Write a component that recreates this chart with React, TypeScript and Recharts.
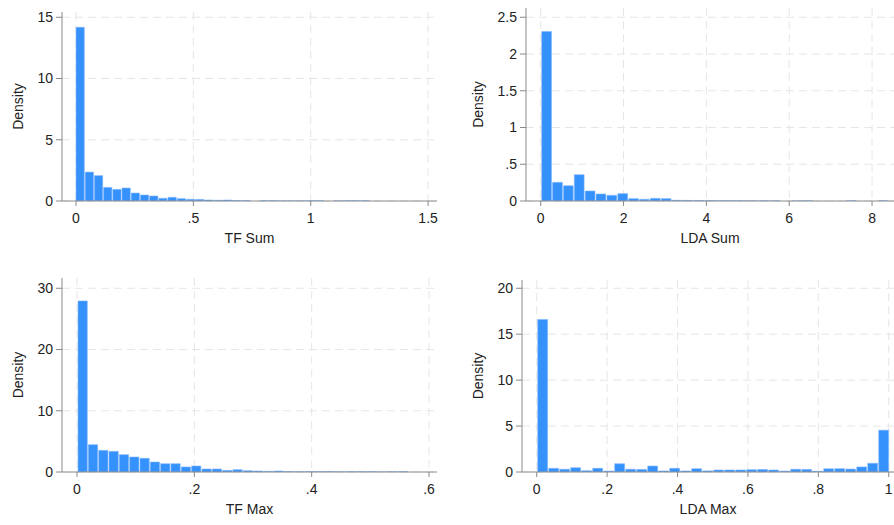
import { BarChart, Bar, XAxis, YAxis, CartesianGrid } from "recharts";

// densities per bin
const tfSumDensity = [
  14.18, 2.36, 2.07, 1.11, 0.95, 1.06, 0.65, 0.49, 0.41, 0.22, 0.3, 0.19, 0.14, 0.13, 0.08, 0.06,
  0.08, 0.04, 0.03, 0, 0.02, 0.02, 0.01, 0.01, 0.01, 0.02, 0.02, 0, 0.01, 0.02, 0.02, 0.02,
];
const ldaSumDensity = [
  2.305, 0.254, 0.208, 0.358, 0.136, 0.095, 0.077, 0.1, 0.032, 0.023, 0.036, 0.032, 0.01, 0.008, 0.006, 0.005,
  0.004, 0.003, 0.003, 0.002, 0.002, 0.002, 0, 0.001, 0.003, 0, 0, 0, 0.002, 0, 0, 0.002,
];
const tfMaxDensity = [
  27.93, 4.46, 3.53, 3.37, 2.83, 2.45, 2.23, 1.63, 1.36, 1.36, 0.82, 0.98, 0.49, 0.49, 0.27, 0.38,
  0.22, 0.16, 0.11, 0.16, 0.08, 0.04, 0.08, 0.06, 0.08, 0.02, 0.05, 0.05, 0.05, 0.01, 0.04, 0.05,
];
const ldaMaxDensity = [
  16.6, 0.4, 0.3, 0.47, 0.14, 0.4, 0.1, 0.9, 0.3, 0.28, 0.65, 0.12, 0.4, 0.12, 0.36, 0.12,
  0.22, 0.22, 0.22, 0.25, 0.27, 0.22, 0.1, 0.3, 0.28, 0.08, 0.35, 0.36, 0.32, 0.55, 0.95, 4.55,
];

const tfSumBinWidth = 0.0392;
const ldaSumBinWidth = 0.2625;
const tfMaxBinWidth = 0.0176;
const ldaMaxBinWidth = 0.03125;

const tfSumXTicks = [0, 0.5, 1, 1.5];
const ldaSumXTicks = [0, 2, 4, 6, 8];
const tfMaxXTicks = [0, 0.2, 0.4, 0.6];
const ldaMaxXTicks = [0, 0.2, 0.4, 0.6, 0.8, 1];

const tfSumYTicks = [0, 5, 10, 15];
const ldaSumYTicks = [0, 0.5, 1, 1.5, 2, 2.5];
const tfMaxYTicks = [0, 10, 20, 30];
const ldaMaxYTicks = [0, 5, 10, 15, 20];

const FONT = "'Liberation Sans', Arial, sans-serif";
const AXIS = "#8a8a8a";
const TEXT = "#222";

const fmt = (v: number) => {
  if (v === 0) return "0";
  return String(+v.toFixed(3)).replace(/^0\./, ".");
};

type Box = { left: number; top: number; width: number; height: number };
type Plot = { l: number; t: number; r: number; b: number };

function Histogram({
  density, binWidth, xDomain, xTicks, yDomain, yTicks, title, box, plot, densityOffset,
}: {
  density: number[]; binWidth: number; xDomain: [number, number]; xTicks: number[];
  yDomain: [number, number]; yTicks: number[]; title: string; box: Box; plot: Plot; densityOffset: number;
}) {
  const data = density.map((d, i) => ({ x: (i + 0.5) * binWidth, d }));
  const plotW = plot.r - plot.l;
  const barPx = (plotW * binWidth) / (xDomain[1] - xDomain[0]);
  const yAxisW = plot.l - box.left;
  const xAxisH = box.top + box.height - plot.b;

  // grid only at the tick values
  const hLines = ({ yAxis, offset }: any) =>
    yTicks.map((t) =>
      yAxis && typeof yAxis.scale === "function"
        ? yAxis.scale(t)
        : offset.top + offset.height * (1 - (t - yDomain[0]) / (yDomain[1] - yDomain[0]))
    );
  const vLines = ({ xAxis, offset }: any) =>
    xTicks.map((t) =>
      xAxis && typeof xAxis.scale === "function"
        ? xAxis.scale(t)
        : offset.left + (offset.width * (t - xDomain[0])) / (xDomain[1] - xDomain[0])
    );

  return (
    <div style={{ position: "absolute", left: box.left, top: box.top }}>
      <BarChart
        width={box.width}
        height={box.height}
        data={data}
        margin={{ top: plot.t - box.top, right: box.left + box.width - plot.r, bottom: 0, left: 0 }}
        style={{ fontFamily: FONT }}
      >
        <CartesianGrid
          strokeDasharray="8 5"
          stroke="#e6e6e6"
          horizontalCoordinatesGenerator={hLines}
          verticalCoordinatesGenerator={vLines}
        />
        <XAxis
          type="number"
          dataKey="x"
          domain={xDomain}
          ticks={xTicks}
          allowDataOverflow
          height={xAxisH}
          tickFormatter={fmt}
          tickSize={5}
          tickMargin={7}
          stroke={AXIS}
          tick={{ fill: TEXT, fontSize: 14 }}
          label={{ value: title, position: "insideTop", offset: 32, fill: TEXT, fontSize: 14 }}
        />
        <YAxis
          type="number"
          domain={yDomain}
          ticks={yTicks}
          allowDataOverflow
          width={yAxisW}
          tickFormatter={fmt}
          tickSize={6}
          tickMargin={3}
          stroke={AXIS}
          tick={{ fill: TEXT, fontSize: 14 }}
          label={{
            value: "Density",
            angle: -90,
            position: "insideLeft",
            offset: densityOffset,
            fill: TEXT,
            fontSize: 14,
            style: { textAnchor: "middle" },
          }}
        />
        <Bar dataKey="d" fill="#3592fd" stroke="#7fb6fc" strokeWidth={0.6} barSize={barPx} isAnimationActive={false} />
      </BarChart>
    </div>
  );
}

export default function App() {
  return (
    <div style={{ position: "absolute", left: 0, top: 0, width: 894, height: 525, background: "#fff" }}>
      <Histogram
        density={tfSumDensity}
        binWidth={tfSumBinWidth}
        xDomain={[-0.0597, 1.538]}
        xTicks={tfSumXTicks}
        yDomain={[0, 15.43]}
        yTicks={tfSumYTicks}
        title="TF Sum"
        box={{ left: 0, top: 0, width: 450, height: 260 }}
        plot={{ l: 62, t: 12, r: 437, b: 201 }}
        densityOffset={18}
      />
      <Histogram
        density={ldaSumDensity}
        binWidth={ldaSumBinWidth}
        xDomain={[-0.355, 8.53]}
        xTicks={ldaSumXTicks}
        yDomain={[0, 2.626]}
        yTicks={ldaSumYTicks}
        title="LDA Sum"
        box={{ left: 450, top: 0, width: 444, height: 260 }}
        plot={{ l: 526, t: 8, r: 894, b: 201 }}
        densityOffset={28}
      />
      <Histogram
        density={tfMaxDensity}
        binWidth={tfMaxBinWidth}
        xDomain={[-0.0256, 0.6136]}
        xTicks={tfMaxXTicks}
        yDomain={[0, 31.68]}
        yTicks={tfMaxYTicks}
        title="TF Max"
        box={{ left: 0, top: 260, width: 450, height: 265 }}
        plot={{ l: 62, t: 278, r: 437, b: 472 }}
        densityOffset={18}
      />
      <Histogram
        density={ldaMaxDensity}
        binWidth={ldaMaxBinWidth}
        xDomain={[-0.0418, 1.015]}
        xTicks={ldaMaxXTicks}
        yDomain={[0, 20.9]}
        yTicks={ldaMaxYTicks}
        title="LDA Max"
        box={{ left: 450, top: 260, width: 444, height: 265 }}
        plot={{ l: 522, t: 280, r: 894, b: 472 }}
        densityOffset={28}
      />
    </div>
  );
}
